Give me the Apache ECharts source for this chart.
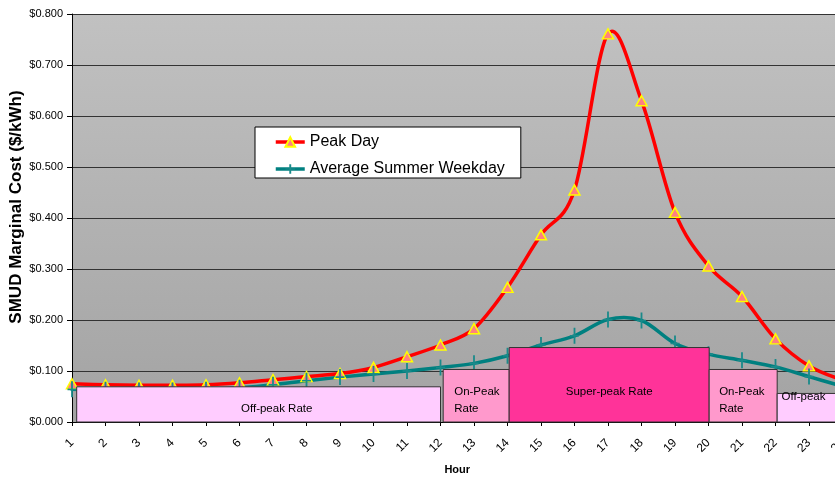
<!DOCTYPE html>
<html>
<head>
<meta charset="utf-8">
<script src="https://cdn.jsdelivr.net/npm/echarts@6/dist/echarts.min.js"></script>
<style>
html,body{margin:0;padding:0;background:#fff;}
#chart{width:835px;height:477px;}
</style>
</head>
<body>
<div id="chart"></div>
<script>
// ---- data ----
const hours = [1,2,3,4,5,6,7,8,9,10,11,12,13,14,15,16,17,18,19,20,21,22,23,24];
const peakDay = [0.075,0.073,0.072,0.072,0.073,0.077,0.083,0.089,0.095,0.107,0.128,0.151,0.183,0.264,0.367,0.455,0.761,0.630,0.411,0.306,0.246,0.163,0.110,0.082];
const avgWeekday = [0.064,0.063,0.062,0.062,0.063,0.067,0.073,0.081,0.088,0.094,0.100,0.107,0.115,0.130,0.151,0.169,0.201,0.199,0.154,0.133,0.121,0.108,0.089,0.070];
const seriesNames = ['Peak Day','Average Summer Weekday'];
const rateNames = ['Off-peak Rate','On-Peak\nRate','Super-peak Rate','On-Peak\nRate','Off-peak'];
const rateStart = [1.14, 12.08, 14.05, 20.02, 22.05];
const rateEnd = [12.0, 14.05, 20.02, 22.05, 24.6];
const rateLevel = [0.069, 0.103, 0.146, 0.103, 0.056];

// ---- styles ----
const FONT = '"Liberation Sans", Arial, sans-serif';
const RED = '#ff0000', TEAL = '#008080';
const rateColors = ['#ffccff','#ff99cc','#ff3399','#ff99cc','#ffccff'];
const rateLabelStyle = [
  {align:'center', dx:200, dy:22.3},
  {align:'left', dx:11, dy:31},
  {align:'center', dx:100, dy:44.7},
  {align:'left', dx:10, dy:31},
  {align:'left', dx:4.4, dy:3.6}
];

// Excel-like smoothed curve (Catmull-Rom via cubic Bezier) through points mapped by the axes
function curveSeries(values, color, z) {
  return {
    type: 'custom', z: z, silent: true, clip: false,
    encode: {x: 0, y: 1},
    data: hours.map((h,i) => [h, values[i]]),
    renderItem: function(params, api) {
      if (params.dataIndex !== 0) return null;
      const pts = hours.map((h,i) => api.coord([h, values[i]]));
      const n = pts.length;
      let d = 'M' + pts[0][0] + ' ' + pts[0][1];
      for (let i = 0; i < n - 1; i++) {
        const p0 = pts[Math.max(i-1,0)], p1 = pts[i], p2 = pts[i+1], p3 = pts[Math.min(i+2,n-1)];
        const c1x = p1[0] + (p2[0]-p0[0])/6, c1y = p1[1] + (p2[1]-p0[1])/6;
        const c2x = p2[0] - (p3[0]-p1[0])/6, c2y = p2[1] - (p3[1]-p1[1])/6;
        d += ' C' + c1x + ' ' + c1y + ' ' + c2x + ' ' + c2y + ' ' + p2[0] + ' ' + p2[1];
      }
      return {type: 'path', shape: {pathData: d},
        style: {fill: 'none', stroke: color, lineWidth: 3.5, lineJoin: 'round', lineCap: 'round'}};
    }
  };
}

const chart = echarts.init(document.getElementById('chart'), null, {renderer:'canvas'});

const option = {
  animation: false,
  backgroundColor: '#ffffff',
  textStyle: {fontFamily: FONT},
  grid: {
    left: 72, top: 14, width: 770.5, height: 408,
    containLabel: false, outerBoundsMode: 'none',
    show: true, borderWidth: 0,
    backgroundColor: new echarts.graphic.LinearGradient(0,0,0,1,[
      {offset:0, color:'#c1c1c1'},
      {offset:1, color:'#a3a3a3'}
    ])
  },
  legend: {
    orient: 'vertical',
    left: 255, top: 127,
    itemWidth: 29, itemHeight: 12, itemGap: 11,
    padding: [7, 16, 1, 19],
    backgroundColor: '#ffffff',
    borderColor: '#000000', borderWidth: 1,
    textStyle: {fontSize: 16, color: '#000', fontFamily: FONT},
    data: [
      {name: seriesNames[0], lineStyle: {color: RED, width: 3.5, opacity: 1}},
      {name: seriesNames[1], lineStyle: {color: TEAL, width: 3.5, opacity: 1}}
    ]
  },
  xAxis: {
    type: 'value', min: 1, max: 24, interval: 1,
    name: 'Hour', nameLocation: 'middle', nameGap: 42, nameMoveOverlap: false,
    nameTextStyle: {fontWeight: 'bold', fontSize: 11, color: '#000', fontFamily: FONT},
    axisLine: {show: true, lineStyle: {color: '#000', width: 1}},
    axisTick: {show: true, length: 4, lineStyle: {color: '#000'}},
    axisLabel: {rotate: 45, fontSize: 12, color: '#000', margin: 19, fontFamily: FONT},
    splitLine: {show: false}
  },
  yAxis: {
    type: 'value', min: 0, max: 0.8, interval: 0.1,
    name: 'SMUD Marginal Cost ($/kWh)', nameLocation: 'middle', nameGap: 47, nameMoveOverlap: false,
    nameTextStyle: {fontWeight: 'bold', fontSize: 17, color: '#000', fontFamily: FONT,
      padding: [0, 0, 0, 22]},
    axisLine: {show: true, lineStyle: {color: '#000', width: 1}},
    axisTick: {show: true, length: 5, lineStyle: {color: '#000'}},
    axisLabel: {fontSize: 11, color: '#000', margin: 9, fontFamily: FONT,
      formatter: v => '$' + v.toFixed(3)},
    splitLine: {show: true, lineStyle: {color: '#333333', width: 1}}
  },
  series: [
    curveSeries(peakDay, RED, 3),
    curveSeries(avgWeekday, TEAL, 2),
    {
      name: seriesNames[0], type: 'line', z: 4,
      data: hours.map((h,i) => [h, peakDay[i]]),
      symbol: 'triangle', symbolSize: [11, 10],
      itemStyle: {color: '#ff8080', borderColor: '#ffff00', borderWidth: 1.5},
      lineStyle: {color: RED, width: 3.5, opacity: 0}
    },
    {
      name: seriesNames[1], type: 'line', z: 4,
      data: hours.map((h,i) => [h, avgWeekday[i]]),
      symbol: 'path://M4,0 H6 V9 H10 V11 H6 V20 H4 V11 H0 V9 H4 Z',
      symbolSize: [9, 16],
      itemStyle: {color: '#1a8a8a'},
      lineStyle: {color: TEAL, width: 3.5, opacity: 0}
    },
    {
      type: 'custom', z: 6, silent: true,
      encode: {x: [0, 1], y: 2},
      data: rateStart.map((s,i) => [s, rateEnd[i], rateLevel[i]]),
      renderItem: function(params, api) {
        const i = params.dataIndex;
        const p0 = api.coord([api.value(0), 0]);
        const p1 = api.coord([api.value(1), api.value(2)]);
        const st = rateLabelStyle[i];
        const x = p0[0], y = p1[1], w = p1[0] - p0[0], h = p0[1] - p1[1];
        return {
          type: 'group',
          children: [
            {type: 'rect', shape: {x: x, y: y, width: w, height: h},
             style: {fill: rateColors[i], stroke: '#333333', lineWidth: 1}},
            {type: 'text',
             style: {text: rateNames[i], x: x + st.dx, y: y + st.dy,
               align: st.align, verticalAlign: 'middle',
               fill: '#000', fontSize: 11.5, fontFamily: FONT, lineHeight: 17.3}}
          ]
        };
      }
    }
  ]
};
chart.setOption(option);
</script>
</body>
</html>
